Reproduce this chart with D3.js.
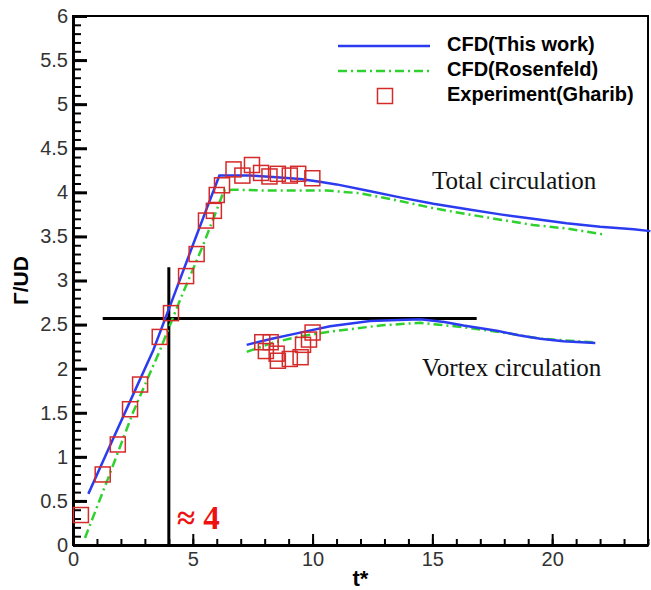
<!DOCTYPE html>
<html>
<head>
<meta charset="utf-8">
<script src="https://cdn.jsdelivr.net/npm/d3@7/dist/d3.min.js"></script>
<style>
  html, body { margin: 0; padding: 0; background: #fff; }
  svg { display: block; }
</style>
</head>
<body>
<svg id="chart" width="651" height="590"></svg>
<script>
// Circulation Γ/UD against formation time t*

// CFD (this work), total circulation
const thisWorkTotal = [
  [0.64, 0.58], [1.5, 1.10], [2.5, 1.70], [3.35, 2.21], [4.2, 2.82], [5.0, 3.40],
  [5.6, 3.83], [6.11, 4.19], [7.4, 4.19], [8.5, 4.17], [9.48, 4.15], [10.3, 4.12],
  [11.0, 4.09], [12.26, 4.02], [13.7, 3.94], [15.04, 3.87], [16.4, 3.81],
  [17.83, 3.75], [19.2, 3.70], [20.6, 3.65], [22.0, 3.61], [23.4, 3.58], [24.1, 3.56]
];
// CFD (Rosenfeld), total circulation
const rosenfeldTotal = [
  [0.5, 0.08], [1.5, 0.78], [2.5, 1.50], [3.63, 2.21], [4.5, 2.80], [5.4, 3.38],
  [6.0, 3.80], [6.3, 4.02], [6.7, 4.03], [8.0, 4.02], [10.6, 4.02], [11.98, 3.99],
  [13.5, 3.91], [15.04, 3.82], [16.5, 3.75], [17.83, 3.69], [19.2, 3.63],
  [20.6, 3.59], [22.2, 3.52]
];
// Experiment (Gharib), total circulation
const gharibTotal = [
  [0.33, 0.34], [1.24, 0.80], [1.87, 1.14], [2.38, 1.54], [2.80, 1.82], [3.62, 2.36],
  [4.09, 2.63], [4.72, 3.05], [5.16, 3.30], [5.55, 3.68], [5.88, 3.79], [6.0, 3.97],
  [6.22, 4.08], [6.7, 4.26], [7.07, 4.19], [7.47, 4.31], [7.85, 4.22], [8.2, 4.18],
  [8.55, 4.21], [9.05, 4.19], [9.4, 4.21], [9.99, 4.16]
];
// CFD (this work), vortex circulation
const thisWorkVortex = [
  [7.25, 2.27], [8.3, 2.34], [9.34, 2.40], [10.73, 2.48], [12.4, 2.54], [14.49, 2.56],
  [15.5, 2.53], [16.3, 2.49], [17.69, 2.43], [18.6, 2.38], [19.5, 2.34],
  [20.47, 2.31], [21.8, 2.29]
];
// CFD (Rosenfeld), vortex circulation
const rosenfeldVortex = [
  [7.25, 2.19], [8.3, 2.29], [9.34, 2.36], [10.73, 2.42], [12.82, 2.49], [14.49, 2.52],
  [16.3, 2.47], [17.69, 2.42], [19.5, 2.34], [21.7, 2.30]
];
// Experiment (Gharib), vortex circulation
const gharibVortex = [
  [7.9, 2.30], [8.25, 2.30], [8.05, 2.20], [8.5, 2.17], [8.55, 2.09], [9.05, 2.11],
  [9.5, 2.13], [9.6, 2.27], [9.85, 2.33], [10.0, 2.41]
];

// Pinch-off marker lines
const pinchOffT = 4;
const pinchOffVRange = [0, 3.15];
const plateauV = 2.57;
const plateauTRange = [1.24, 16.85];

const xMajorTicks = [0, 5, 10, 15, 20];
const xMinorTicks = d3.range(0, 25, 1);
const yMajorTicks = [0, 0.5, 1, 1.5, 2, 2.5, 3, 3.5, 4, 4.5, 5, 5.5, 6];
const yMinorTicks = d3.range(0, 61, 1).map(d => d / 10);

const legendLabels = ["CFD(This work)", "CFD(Rosenfeld)", "Experiment(Gharib)"];

const BLUE = "#2b3bf0";
const GREEN = "#2fd12f";
const RED = "#d42a2a";
const DASHDOT = "9,4,2,4";
const SANS = "'Liberation Sans', Arial, sans-serif";
const SERIF = "'Liberation Serif', 'Times New Roman', serif";

const svg = d3.select("#chart");
const x = d3.scaleLinear().domain([0, 24]).range([73, 648]);
const y = d3.scaleLinear().domain([0, 6]).range([545, 16]);

// Frame
svg.append("rect")
  .attr("x", x(0)).attr("y", y(6))
  .attr("width", x(24) - x(0)).attr("height", y(0) - y(6))
  .attr("fill", "none").attr("stroke", "#000").attr("stroke-width", 2);

// Axes: inward ticks, major and minor
function styleAxis(g) {
  g.selectAll("line").attr("stroke", "#000").attr("stroke-width", 2);
  g.selectAll("text")
    .attr("font-family", SANS).attr("font-size", 20).attr("fill", "#333");
}

svg.append("g").attr("transform", `translate(0,${y(0)})`)
  .call(d3.axisBottom(x).tickValues(xMinorTicks).tickFormat("").tickSizeInner(-6).tickSizeOuter(0))
  .call(g => g.select(".domain").remove())
  .call(styleAxis);
svg.append("g").attr("transform", `translate(0,${y(0)})`)
  .call(d3.axisBottom(x).tickValues(xMajorTicks).tickFormat(d => String(d))
    .tickSizeInner(-11).tickSizeOuter(0).tickPadding(7))
  .call(g => g.select(".domain").attr("stroke", "#000").attr("stroke-width", 3))
  .call(styleAxis);

svg.append("g").attr("transform", `translate(${x(0)},0)`)
  .call(d3.axisLeft(y).tickValues(yMinorTicks).tickFormat("").tickSizeInner(-8).tickSizeOuter(0))
  .call(g => g.select(".domain").remove())
  .call(styleAxis);
svg.append("g").attr("transform", `translate(${x(0)},0)`)
  .call(d3.axisLeft(y).tickValues(yMajorTicks).tickFormat(d => String(d))
    .tickSizeInner(-14).tickSizeOuter(0).tickPadding(5))
  .call(g => g.select(".domain").attr("stroke", "#000").attr("stroke-width", 3))
  .call(styleAxis)
  .call(g => g.selectAll(".tick line").attr("stroke-width", 3));

// Axis titles
svg.append("text")
  .attr("x", (x(0) + x(24)) / 2).attr("y", 586)
  .attr("text-anchor", "middle")
  .attr("font-family", SANS).attr("font-weight", "bold").attr("font-size", 22)
  .text("t*");
svg.append("text")
  .attr("transform", `translate(28,${(y(0) + y(6)) / 2}) rotate(-90)`)
  .attr("text-anchor", "middle")
  .attr("font-family", SANS).attr("font-weight", "bold").attr("font-size", 21)
  .text("Γ/UD");

// Pinch-off cross
svg.append("line")
  .attr("x1", x(pinchOffT)).attr("x2", x(pinchOffT))
  .attr("y1", y(pinchOffVRange[0]) + 1).attr("y2", y(pinchOffVRange[1]))
  .attr("stroke", "#000").attr("stroke-width", 3);
svg.append("line")
  .attr("x1", x(plateauTRange[0])).attr("x2", x(plateauTRange[1]))
  .attr("y1", y(plateauV)).attr("y2", y(plateauV))
  .attr("stroke", "#000").attr("stroke-width", 3);

// Curves
const line = d3.line().x(d => x(d[0])).y(d => y(d[1]));

[[rosenfeldTotal, GREEN, DASHDOT], [rosenfeldVortex, GREEN, DASHDOT],
 [thisWorkTotal, BLUE, null], [thisWorkVortex, BLUE, null]]
  .forEach(([data, color, dash]) => {
    svg.append("path")
      .datum(data)
      .attr("d", line)
      .attr("fill", "none")
      .attr("stroke", color)
      .attr("stroke-width", 2.5)
      .attr("stroke-dasharray", dash);
  });

// Experimental points
const SQ = 15;
svg.append("g").selectAll("rect")
  .data(gharibTotal.concat(gharibVortex))
  .join("rect")
  .attr("x", d => x(d[0]) - SQ / 2)
  .attr("y", d => y(d[1]) - SQ / 2)
  .attr("width", SQ).attr("height", SQ)
  .attr("fill", "none").attr("stroke", RED).attr("stroke-width", 1.5);

// Annotations
svg.append("text")
  .attr("x", 432).attr("y", 189)
  .attr("font-family", SERIF).attr("font-size", 25).attr("fill", "#111")
  .text("Total circulation");
svg.append("text")
  .attr("x", 422).attr("y", 376)
  .attr("font-family", SERIF).attr("font-size", 25).attr("fill", "#111")
  .text("Vortex circulation");
svg.append("text")
  .attr("x", 177).attr("y", 529)
  .attr("font-family", SERIF).attr("font-weight", "bold").attr("font-size", 33)
  .attr("fill", "#ee1111")
  .text("≈ 4");

// Legend
const legend = svg.append("g");
const rowY = [46, 71, 96];
legend.append("line")
  .attr("x1", 338).attr("x2", 430).attr("y1", rowY[0]).attr("y2", rowY[0])
  .attr("stroke", BLUE).attr("stroke-width", 2.5);
legend.append("line")
  .attr("x1", 338).attr("x2", 430).attr("y1", rowY[1]).attr("y2", rowY[1])
  .attr("stroke", GREEN).attr("stroke-width", 2.5).attr("stroke-dasharray", DASHDOT);
legend.append("rect")
  .attr("x", 385 - SQ / 2).attr("y", rowY[2] - SQ / 2)
  .attr("width", SQ).attr("height", SQ)
  .attr("fill", "none").attr("stroke", RED).attr("stroke-width", 1.5);
legend.selectAll("text")
  .data(legendLabels)
  .join("text")
  .attr("x", 447)
  .attr("y", (d, i) => rowY[i] + 5)
  .attr("font-family", SANS).attr("font-weight", "bold").attr("font-size", 20)
  .attr("fill", "#000")
  .text(d => d);
</script>
</body>
</html>
